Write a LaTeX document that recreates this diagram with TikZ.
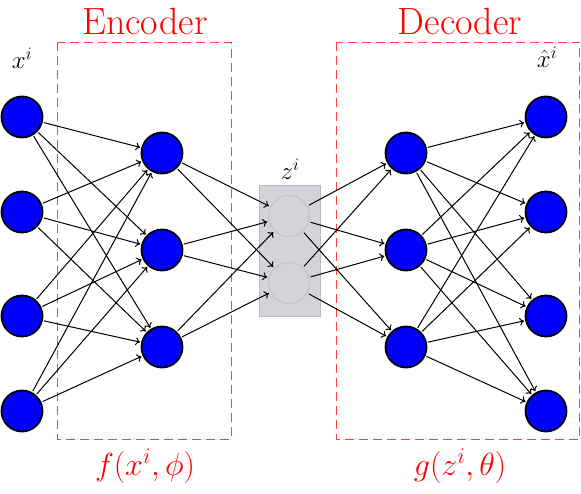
\documentclass[tikz,border=0pt]{standalone}
\usepackage{fix-cm}
\usepackage{tikz}
\usetikzlibrary{arrows.meta}
\definecolor{boxgray}{RGB}{211,212,217}
\definecolor{boxedge}{RGB}{185,185,190}
\definecolor{circedge}{RGB}{196,196,200}
\begin{document}
\begin{tikzpicture}[x=1pt,y=-1pt,
  neuron/.style={circle,draw=black,line width=1.8pt,fill=blue,minimum size=41pt,inner sep=0pt,outer sep=2pt},
  latent/.style={circle,draw=circedge,line width=1.2pt,fill=boxgray,minimum size=41pt,inner sep=0pt,outer sep=2pt},
  conn/.style={-{To[length=4.5pt,width=8pt]},line width=1pt},
  region/.style={draw=red!75,line width=0.9pt,dash pattern=on 9pt off 5pt},
  title/.style={text=red,font=\fontsize{38}{44}\selectfont},
  mtitle/.style={text=red,font=\fontsize{32}{38}\selectfont},
  lbl/.style={font=\fontsize{25}{30}\selectfont}]
\useasboundingbox (0,0) rectangle (581,494);
% regions
\draw[region] (57,42) rectangle (231,439);
\draw[region] (336,42) rectangle (579.5,439);
\node[title] (enc) at (145,21) {Encoder};
\node[title] (dec) at (460,21) {Decoder};
\node[mtitle] (fx) at (145,466) {$f(x^i,\phi)$};
\node[mtitle] (gz) at (460,466) {$g(z^i,\theta)$};
% latent box
\node[draw=boxedge,fill=boxgray,line width=0.9pt,minimum width=61pt,minimum height=131pt,inner sep=0pt] (zbox) at (289.5,250.5) {};
% nodes
\foreach \i/\y in {1/117,2/212,3/316,4/411} {
  \node[neuron] (in\i) at (22,\y) {};
  \node[neuron] (out\i) at (546,\y) {};
}
\foreach \i/\y in {1/153,2/250,3/347} {
  \node[neuron] (ha\i) at (162,\y) {};
  \node[neuron] (hb\i) at (406,\y) {};
}
\foreach \i/\y in {1/216,2/283} {
  \node[latent] (z\i) at (289,\y) {};
}
\node[lbl] (xl) at (22,58) {$x^i$};
\node[lbl] (zl) at (290,169) {$z^i$};
\node[lbl] (xh) at (547,57) {$\hat{x}^i$};
% connections
\foreach \a in {1,2,3,4} \foreach \b in {1,2,3} {
  \draw[conn] (in\a) -- (ha\b);
  \draw[conn] (hb\b) -- (out\a);
}
\foreach \a in {1,2,3} \foreach \b in {1,2} {
  \draw[conn] (ha\a) -- (z\b);
  \draw[conn] (z\b) -- (hb\a);
}
\end{tikzpicture}
\end{document}
